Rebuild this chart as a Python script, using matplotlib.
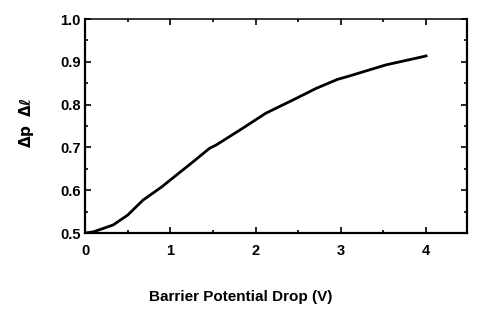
import matplotlib

matplotlib.use("Agg")
import matplotlib.pyplot as plt
from matplotlib.ticker import MultipleLocator

# values
drop_v = [0.0, 0.1, 0.33, 0.5, 0.68, 0.9, 1.0, 1.27, 1.46, 1.54, 1.85, 2.12,
          2.48, 2.71, 2.96, 3.1, 3.53, 3.96, 4.0]
ratio = [0.500, 0.503, 0.519, 0.542, 0.577, 0.608, 0.624, 0.667, 0.698, 0.706,
         0.745, 0.780, 0.815, 0.838, 0.859, 0.867, 0.893, 0.912, 0.914]

xticks = [0, 1, 2, 3, 4]
yticks = [0.5, 0.6, 0.7, 0.8, 0.9, 1.0]

plt.rcParams.update({
    "font.family": "sans-serif",
    "font.sans-serif": ["Liberation Sans", "DejaVu Sans"],
    "font.weight": "bold",
    "font.size": 10.5,
})

fig = plt.figure(figsize=(4.98, 3.18), dpi=100)
ax = fig.add_axes([0.1707, 0.267, 0.767, 0.673])

ax.plot(drop_v, ratio, color="black", lw=2.0, solid_joinstyle="round")

ax.set_xlim(0, 4.48)
ax.set_ylim(0.5, 1.0)
ax.set_xticks(xticks)
ax.set_xticklabels([str(t) for t in xticks])
ax.set_yticks(yticks)
ax.set_yticklabels([f"{t:.1f}" for t in yticks])
ax.xaxis.set_minor_locator(MultipleLocator(0.5))
ax.yaxis.set_minor_locator(MultipleLocator(0.05))

ax.tick_params(which="both", direction="in", top=True, right=True,
               labelsize=10.5, width=1.2)
ax.tick_params(which="major", length=4)
ax.tick_params(which="minor", length=2.5)
ax.tick_params(axis="x", pad=8)
ax.tick_params(axis="y", pad=3)
for lab in ax.get_xticklabels() + ax.get_yticklabels():
    lab.set_fontweight("bold")

for side in ("left", "bottom", "right"):
    ax.spines[side].set_linewidth(1.6)
ax.spines["top"].set_linewidth(1.1)

fig.text(241 / 498, 1 - 297 / 318, "Barrier Potential Drop (V)",
         ha="center", va="center", fontsize=11, fontweight="bold")
fig.text(26 / 498, 1 - 122 / 318, r"$\mathbf{\Delta p}$  $\mathbf{\Delta}\ell$",
         ha="center", va="center", rotation=90, fontsize=11, fontweight="bold")

fig.savefig("out.png", dpi=100)
